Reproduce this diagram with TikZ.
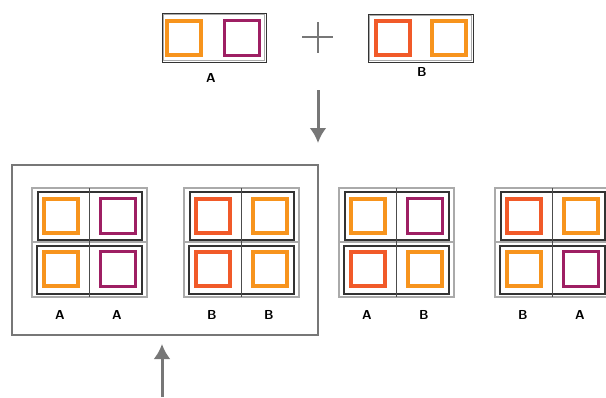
\documentclass[tikz,border=0pt]{standalone}
\usepackage{xcolor}
\usepackage{tikz}
\usetikzlibrary{arrows.meta,positioning}

\definecolor{tileorange}{HTML}{F7941D}
\definecolor{tilemagenta}{HTML}{9E1F63}
\definecolor{tilered}{HTML}{F15A29}
\definecolor{framegray}{HTML}{AAAAAA}
\definecolor{arrowgray}{HTML}{777777}

\tikzset{
	tile/.style={draw,inner sep=0pt,fill=white},
	orangesq/.style={tile,draw=tileorange,line width=4pt,minimum size=34pt},
	magentasq/.style={tile,draw=tilemagenta,line width=3pt,minimum size=35pt},
	redsq/.style={tile,draw=tilered,line width=4pt,minimum size=34pt},
	letter/.style={font=\sffamily\bfseries\fontsize{13}{13}\selectfont,inner sep=0pt},
	bigarrow/.style={arrowgray,line width=3pt,-{Latex[length=15pt,width=17pt]}}
}

% one 2x2 panel: name, x, y, four tiles, two letters
\newcommand{\panel}[9]{
	\begin{scope}[shift={(#2,#3)}]
		\draw[framegray,line width=2pt] (0,0) rectangle (115,109);
		\draw[framegray,line width=1.2pt] (0,54) -- (115,54);
		\draw[black!80,line width=1.3pt] (6,4) rectangle (110,52);
		\draw[black!80,line width=1.3pt] (5,58) rectangle (110,106);
		\draw[black!70,line width=1pt] (57,0) -- (57,109);
		\node[#4] (#1-tl) at (29,28) {};
		\node[#5] (#1-tr) at (86,28) {};
		\node[#6] (#1-bl) at (29,81) {};
		\node[#7] (#1-br) at (86,81) {};
		\node[letter] (#1-la) at (28,127) {#8};
		\node[letter] (#1-lb) at (85,127) {#9};
	\end{scope}
}

\begin{document}
\begin{tikzpicture}[x=1pt,y=-1pt]
	\useasboundingbox (0,0) rectangle (606,397);
	% the two halves
	\draw[black!80,line width=1pt] (162,13) rectangle (266,62);
	\draw[framegray,line width=0.8pt] (163.3,14.3) rectangle (264.7,60.7);
	\node[orangesq] (pa-left) at (184,37.5) {};
	\node[magentasq] (pa-right) at (242,37.5) {};
	\node[letter] (pa-label) at (211,78) {A};
	\draw[black!80,line width=1pt] (368,14) rectangle (473,62);
	\draw[framegray,line width=0.8pt] (369.3,15.3) rectangle (471.7,60.7);
	\node[redsq] (pb-left) at (392.5,37.5) {};
	\node[orangesq] (pb-right) at (448.5,37.5) {};
	\node[letter] (pb-label) at (422,72) {B};
	\draw[arrowgray,line width=2.5pt] (302,37) -- (333,37);
	\draw[arrowgray,line width=2.5pt] (318,22) -- (318,53);
	% arrow down
	\coordinate (down-from) at (318,90);
	\coordinate (down-to) at (318,143);
	\draw[bigarrow] (down-from) -- (down-to);
	% selected group
	\draw[arrowgray,line width=2.5pt] (12,165) rectangle (318,335);
	\panel{aa}{32}{188}{orangesq}{magentasq}{orangesq}{magentasq}{A}{A}
	\panel{bb}{184}{188}{redsq}{orangesq}{redsq}{orangesq}{B}{B}
	\panel{ab}{339}{188}{orangesq}{magentasq}{redsq}{orangesq}{A}{B}
	\panel{ba}{495}{188}{redsq}{orangesq}{orangesq}{magentasq}{B}{A}
	% arrow up
	\coordinate (up-from) at (162,397);
	\coordinate (up-to) at (162,344);
	\draw[bigarrow] (up-from) -- (up-to);
\end{tikzpicture}
\end{document}
